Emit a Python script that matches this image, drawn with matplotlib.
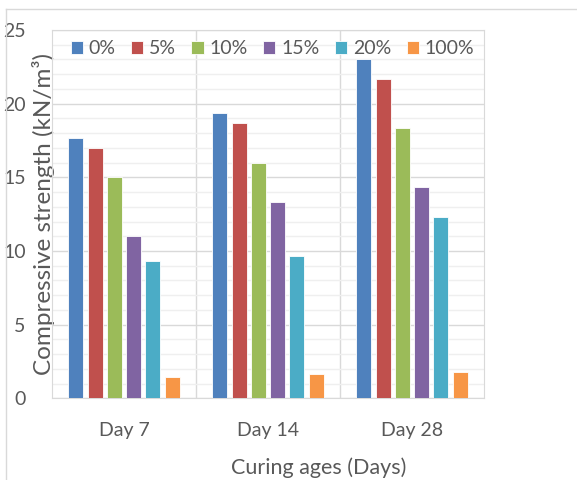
import matplotlib
matplotlib.use("Agg")
import matplotlib.pyplot as plt
import numpy as np
from matplotlib.ticker import MultipleLocator

plt.rcParams['font.family'] = ['Lato', 'DejaVu Sans']

ages = ['Day 7', 'Day 14', 'Day 28']
mixes = ['0%', '5%', '10%', '15%', '20%', '100%']
strength = {
    '0%':   [17.7, 19.35, 23.0],
    '5%':   [17.0, 18.67, 21.68],
    '10%':  [15.0, 16.0, 18.35],
    '15%':  [11.0, 13.33, 14.32],
    '20%':  [9.32, 9.66, 12.31],
    '100%': [1.47, 1.63, 1.81],
}
colors = ['#4F81BD', '#C0504D', '#9BBB59', '#8064A2', '#4BACC6', '#F79646']

txt = '#595959'
fig = plt.figure(figsize=(5.77, 4.8), dpi=100)
ax = fig.add_axes([0.0901, 0.1702, 0.7487, 0.7673])

x = np.arange(len(ages))
w = 0.104
step = 0.134
for i, (m, c) in enumerate(zip(mixes, colors)):
    off = (i - (len(mixes) - 1) / 2) * step
    ax.bar(x + off, strength[m], w, color=c, edgecolor='white', linewidth=0.6,
           label=m, zorder=3)

ax.set_xlim(-0.5, 2.5)
ax.set_ylim(0, 25)
ax.yaxis.set_major_locator(MultipleLocator(5))
ax.yaxis.set_minor_locator(MultipleLocator(1))
ax.grid(which='major', axis='y', color='#d9d9d9', linewidth=1.0, zorder=0)
ax.grid(which='minor', axis='y', color='#efefef', linewidth=1.0, zorder=0)
for b in [0.5, 1.5]:
    ax.axvline(b, color='#d9d9d9', linewidth=1.0, zorder=0)

for s in ax.spines.values():
    s.set_color('#d9d9d9')
ax.tick_params(which='both', length=0)
ax.set_xticks(x)
ax.set_xticklabels(ages, fontsize=14, color=txt)
ax.tick_params(axis='x', pad=17)
ax.tick_params(axis='y', pad=19, labelsize=14, labelcolor=txt)

ax.set_ylabel('Compressive strength (kN/m³)', fontsize=17.5, color=txt)
ax.yaxis.set_label_coords(0.006, 0.5)
ax.set_xlabel('Curing ages (Days)', fontsize=15.5, color=txt)
ax.xaxis.set_label_coords(0.617, -0.16)

ax.legend(loc='upper center', ncol=6, frameon=False, fontsize=14,
          handlelength=0.62, handleheight=0.62, handletextpad=0.3,
          columnspacing=0.8, bbox_to_anchor=(0.51, 1.02), labelcolor=txt)

# outer chart frame
fig.add_artist(plt.Line2D([6 / 577, 6 / 577], [0, 1 - 9 / 480],
                          color='#d9d9d9', linewidth=1.0))
fig.add_artist(plt.Line2D([6 / 577, 1], [1 - 9 / 480, 1 - 9 / 480],
                          color='#d9d9d9', linewidth=1.0))

fig.savefig('out.png', dpi=100, facecolor='white')
